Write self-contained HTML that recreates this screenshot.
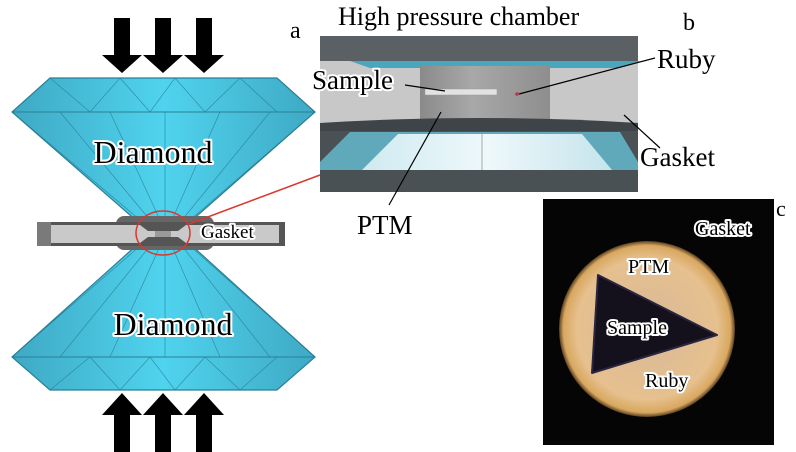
<!DOCTYPE html>
<html><head><meta charset="utf-8"><style>
html,body{margin:0;padding:0;background:#fff;}
svg{display:block;}
svg text{font-family:'Liberation Serif','DejaVu Serif','Times New Roman',serif !important;}
.o{paint-order:stroke;stroke:#fff;stroke-width:4px;stroke-linejoin:round;}
</style></head><body>
<svg width="796" height="452" viewBox="0 0 796 452" xmlns="http://www.w3.org/2000/svg" style="font-family:'Liberation Serif','DejaVu Serif',serif">
<defs>
<linearGradient id="dg" x1="0" x2="1" y1="0" y2="0">
<stop offset="0" stop-color="#3fa9c4"/><stop offset="0.5" stop-color="#4fd3ee"/><stop offset="1" stop-color="#3fa9c4"/>
</linearGradient>
<linearGradient id="cyl" x1="0" x2="1">
<stop offset="0" stop-color="#8a8a8a"/><stop offset="0.4" stop-color="#a8a8a8"/><stop offset="1" stop-color="#8e8e8e"/>
</linearGradient>
<linearGradient id="anv" x1="0" x2="1">
<stop offset="0" stop-color="#cfeaf1"/><stop offset="0.5" stop-color="#eef8fb"/><stop offset="1" stop-color="#c5e4ec"/>
</linearGradient>
<radialGradient id="disc" cx="0.5" cy="0.5" r="0.5">
<stop offset="0" stop-color="#d8b898"/><stop offset="0.8" stop-color="#e6c08e"/><stop offset="0.95" stop-color="#d9a860"/><stop offset="1" stop-color="#5a4020"/>
</radialGradient>
</defs>
<g fill="#000">
<path d="M114,18h16v37h12l-20,18l-20,-18h12z"/>
<path d="M155,18h16v37h12l-20,18l-20,-18h12z"/>
<path d="M196,18h16v37h12l-20,18l-20,-18h12z"/>
<path d="M114,452h16v-37h12l-20,-22l-20,22h12z"/>
<path d="M155,452h16v-37h12l-20,-22l-20,22h12z"/>
<path d="M196,452h16v-37h12l-20,-22l-20,22h12z"/>
</g>
<path d="M50,78L277,78L315,112L190,222L138,222L12,112Z" fill="url(#dg)" stroke="#2a7f96" stroke-width="1.2"/>
<line x1="12" y1="112" x2="315" y2="112" stroke="#2a7f96"/>
<g stroke="#2a7f96" stroke-width="0.7" fill="none" opacity="0.8">
<path d="M50,78L90,112L120,78L150,112L175,78L205,112L240,78L277,112"/>
<path d="M12,112L140,220M60,112L150,220M110,112L160,220M165,112L165,220M220,112L172,220M270,112L182,220M315,112L190,220"/>
</g>
<path d="M138,244L190,244L315,357L277,390L50,390L12,357Z" fill="url(#dg)" stroke="#2a7f96" stroke-width="1.2"/>
<line x1="12" y1="357" x2="315" y2="357" stroke="#2a7f96"/>
<g stroke="#2a7f96" stroke-width="0.7" fill="none" opacity="0.8">
<path d="M50,390L90,357L120,390L150,357L175,390L205,357L240,390L277,357"/>
<path d="M12,357L140,246M60,357L150,246M110,357L160,246M165,357L165,246M220,357L172,246M270,357L182,246M315,357L190,246"/>
</g>
<rect x="116" y="216" width="98" height="34" rx="8" fill="#666"/>
<rect x="37" y="222" width="248" height="24" fill="#555"/>
<rect x="51" y="225" width="228" height="18" fill="#c9c9c9"/>
<rect x="37" y="222" width="14" height="24" fill="#7a7a7a"/>
<path d="M140,225h46l-8,6h-30z M140,243h46l-8,-6h-30z" fill="#555"/>
<rect x="155" y="231" width="16" height="6" fill="#9a9a9a"/>
<ellipse cx="163" cy="233" rx="27" ry="22" fill="none" stroke="#d9382e" stroke-width="1.5"/>
<line x1="189" y1="224" x2="320" y2="175" stroke="#d9382e" stroke-width="1.5"/>
<text x="201" y="238" font-size="19" fill="#000" class="o">Gasket</text>
<text x="153" y="163" font-size="32" text-anchor="middle" fill="#000" class="o">Diamond</text>
<text x="173" y="335" font-size="32" text-anchor="middle" fill="#000" class="o">Diamond</text>
<rect x="320" y="36" width="318" height="156" fill="#c8c8c8"/>
<rect x="320" y="36" width="318" height="25" fill="#5a6064"/>
<path d="M350,61h290v0l-20,7h-250z" fill="#4aa6bd"/>
<rect x="420" y="66" width="130" height="64" fill="url(#cyl)"/>
<rect x="425" y="89" width="72" height="6" fill="#e2e2e2" stroke="#999" stroke-width="0.5"/>
<circle cx="517" cy="94" r="1.8" fill="#c0304a"/>
<path d="M320,130h318v62h-318z" fill="#4a5155"/>
<path d="M320,162L350,132h270l18,30v8h-318z" fill="#5fa9bb"/>
<path d="M362,170L398,134h184l30,36z" fill="url(#anv)"/>
<path d="M320,123q160,-10 318,0v8h-318z" fill="#3e4447"/>
<line x1="482" y1="134" x2="482" y2="170" stroke="#888" stroke-width="0.7"/>
<g stroke="#000" stroke-width="1.2">
<line x1="405" y1="85" x2="445" y2="91"/>
<line x1="655" y1="58" x2="519" y2="94"/>
<line x1="624" y1="115" x2="660" y2="148"/>
<line x1="441" y1="112" x2="389" y2="205"/>
</g>
<text x="338" y="25" font-size="26">High pressure chamber</text>
<text x="290" y="38" font-size="24">a</text>
<text x="683" y="30" font-size="24">b</text>
<text x="657" y="68" font-size="27" class="o">Ruby</text>
<text x="312" y="89" font-size="27" class="o">Sample</text>
<text x="640" y="166" font-size="27" class="o">Gasket</text>
<text x="357" y="234" font-size="27">PTM</text>
<rect x="543" y="199" width="231" height="246" fill="#050505"/>
<circle cx="647" cy="329" r="88" fill="url(#disc)"/>
<path d="M598,275L592,373L717,335Z" fill="#15111c" stroke="#2a2540" stroke-width="2" stroke-linejoin="round"/>
<text x="776" y="216" font-size="22">c</text>
<g font-size="20" fill="#000" stroke-width="5">
<text x="695" y="235" class="o">Gasket</text>
<text x="628" y="273" class="o">PTM</text>
<text x="607" y="334" class="o">Sample</text>
<text x="645" y="387" class="o">Ruby</text>
</g>
</svg>
</body></html>
